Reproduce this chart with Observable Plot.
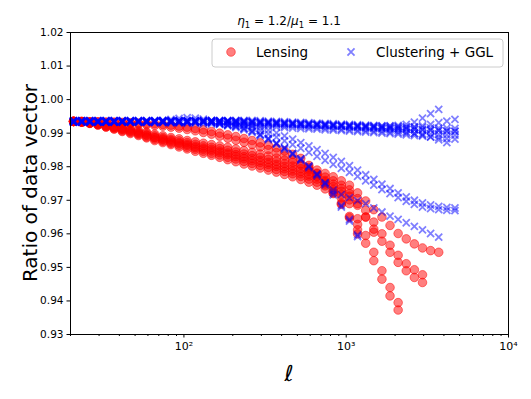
<!DOCTYPE html>
<html><head><meta charset="utf-8">
<script src="https://cdn.jsdelivr.net/npm/d3@7"></script>
<script src="https://cdn.jsdelivr.net/npm/@observablehq/plot@0.6"></script>
<style>
html,body{margin:0;padding:0;background:#fff;}
#chart{width:531px;height:399px;}
</style></head><body><div id="chart"></div>
<script>
// multipole values (shared grid)
const ell = [20.89,23.44,26.30,29.51,33.11,37.15,41.69,46.77,52.48,58.88,
 66.07,74.13,83.18,93.33,104.7,117.5,131.8,147.9,166.0,186.2,
 208.9,234.4,263.0,295.1,331.1,371.5,416.9,467.7,524.8,588.8,
 660.7,741.3,831.8,933.3,1047,1175,1318,1479,1660,1862,
 2089,2344,2630,2951,3311,3715,4169,4677];

// Lensing ratios (each curve runs over the first N ell values)
const lens1 = [0.9935,0.9935,0.9934,0.9934,0.9933,0.9933,0.9932,0.9931,0.9930,0.9929,
 0.9928,0.9926,0.9924,0.9921,0.9918,0.9914,0.9910,0.9905,0.9900,0.9895,
 0.9890,0.9884,0.9878,0.9871,0.9864,0.9856,0.9847,0.9837,0.9825,0.9804,
 0.9781,0.9756,0.9726,0.9691,0.9648,0.9600];
const lens2 = [0.9935,0.9935,0.9934,0.9933,0.9932,0.9931,0.9930,0.9929,0.9927,0.9925,
 0.9923,0.9921,0.9918,0.9915,0.9911,0.9907,0.9902,0.9897,0.9891,0.9885,
 0.9879,0.9873,0.9866,0.9859,0.9851,0.9842,0.9832,0.9821,0.9808,0.9792,
 0.9772,0.9748,0.9720,0.9688,0.9652,0.9612];
const lens3 = [0.9935,0.9934,0.9932,0.9929,0.9925,0.9921,0.9917,0.9913,0.9908,0.9903,
 0.9897,0.9892,0.9887,0.9883,0.9878,0.9874,0.9870,0.9866,0.9862,0.9858,
 0.9853,0.9848,0.9843,0.9838,0.9832,0.9826,0.9820,0.9813,0.9805,0.9798,
 0.9790,0.9780,0.9770,0.9758,0.9745,0.9722,0.9698,0.9672,0.9650,0.9625,
 0.9601,0.9585,0.9570,0.9558,0.9550,0.9545];
const lens4 = [0.9935,0.9934,0.9931,0.9928,0.9923,0.9919,0.9914,0.9910,0.9904,0.9899,
 0.9892,0.9887,0.9882,0.9877,0.9872,0.9867,0.9862,0.9858,0.9854,0.9849,
 0.9844,0.9838,0.9833,0.9828,0.9822,0.9816,0.9809,0.9802,0.9794,0.9787,
 0.9779,0.9769,0.9758,0.9745,0.9731,0.9705,0.9670,0.9635,0.9600,0.9566,
 0.9536,0.9511,0.9493,0.9478];
const lens5 = [0.9935,0.9934,0.9931,0.9927,0.9922,0.9917,0.9912,0.9907,0.9901,0.9895,
 0.9888,0.9883,0.9878,0.9872,0.9867,0.9861,0.9856,0.9852,0.9847,0.9841,
 0.9836,0.9830,0.9825,0.9819,0.9813,0.9807,0.9801,0.9794,0.9786,0.9778,
 0.9770,0.9759,0.9748,0.9735,0.9720,0.9690,0.9650,0.9605];
const lens6 = [0.9935,0.9933,0.9930,0.9926,0.9921,0.9916,0.9910,0.9905,0.9899,0.9893,
 0.9886,0.9880,0.9874,0.9869,0.9863,0.9857,0.9852,0.9847,0.9842,0.9836,
 0.9830,0.9824,0.9818,0.9813,0.9807,0.9801,0.9794,0.9787,0.9779,0.9772,
 0.9763,0.9752,0.9741,0.9727,0.9712,0.9685,0.9650,0.9614,0.9578,0.9545,
 0.9515,0.9490,0.9470,0.9455];
const lens7 = [0.9935,0.9933,0.9930,0.9925,0.9919,0.9914,0.9907,0.9902,0.9896,0.9889,
 0.9882,0.9876,0.9870,0.9864,0.9858,0.9852,0.9846,0.9840,0.9835,0.9828,
 0.9823,0.9816,0.9810,0.9804,0.9798,0.9792,0.9786,0.9779,0.9771,0.9763,
 0.9754,0.9743,0.9732,0.9717,0.9701,0.9645,0.9595,0.9545,0.9490,0.9440,
 0.9395];
const lens8 = [0.9935,0.9933,0.9929,0.9924,0.9918,0.9912,0.9905,0.9899,0.9893,0.9886,
 0.9878,0.9872,0.9866,0.9859,0.9853,0.9846,0.9840,0.9834,0.9828,0.9821,
 0.9815,0.9808,0.9802,0.9796,0.9790,0.9784,0.9777,0.9770,0.9762,0.9754,
 0.9745,0.9734,0.9722,0.9707,0.9690,0.9628,0.9572,0.9520,0.9465,0.9415,
 0.9373];

// Clustering + GGL ratios
const clus1 = [0.9938,0.9938,0.9938,0.9938,0.9938,0.9938,0.9938,0.9938,0.9938,0.9938,
 0.9938,0.9938,0.9938,0.9938,0.9938,0.9938,0.9938,0.9938,0.9938,0.9938,
 0.9938,0.9938,0.9938,0.9937,0.9936,0.9935,0.9934,0.9933,0.9932,0.9931,
 0.9930,0.9929,0.9928,0.9927,0.9926,0.9925,0.9924,0.9923,0.9922,0.9921,
 0.9920,0.9919,0.9918,0.9917,0.9916,0.9915,0.9915,0.9914];
const clus2 = [0.9936,0.9936,0.9936,0.9936,0.9936,0.9936,0.9936,0.9936,0.9936,0.9936,
 0.9936,0.9936,0.9936,0.9936,0.9936,0.9936,0.9936,0.9936,0.9936,0.9936,
 0.9936,0.9935,0.9934,0.9933,0.9932,0.9931,0.9930,0.9929,0.9928,0.9927,
 0.9926,0.9925,0.9924,0.9922,0.9921,0.9920,0.9919,0.9918,0.9916,0.9915,
 0.9914,0.9913,0.9911,0.9910,0.9909,0.9908,0.9906,0.9905];
const clus3 = [0.9934,0.9934,0.9934,0.9934,0.9934,0.9934,0.9934,0.9934,0.9934,0.9934,
 0.9934,0.9934,0.9934,0.9934,0.9934,0.9934,0.9933,0.9932,0.9931,0.9930,
 0.9929,0.9928,0.9927,0.9926,0.9925,0.9924,0.9922,0.9921,0.9920,0.9918,
 0.9917,0.9915,0.9914,0.9912,0.9911,0.9909,0.9908,0.9906,0.9905,0.9903,
 0.9902,0.9900,0.9899,0.9898,0.9897,0.9896,0.9895,0.9894];
const clus4 = [0.9932,0.9932,0.9932,0.9932,0.9932,0.9932,0.9932,0.9932,0.9932,0.9932,
 0.9931,0.9931,0.9930,0.9930,0.9929,0.9929,0.9928,0.9927,0.9926,0.9925,
 0.9924,0.9923,0.9922,0.9921,0.9920,0.9918,0.9917,0.9915,0.9914,0.9913,
 0.9912,0.9910,0.9909,0.9908,0.9906,0.9905,0.9903,0.9902,0.9900,0.9899,
 0.9897,0.9895,0.9893,0.9891,0.9889,0.9887,0.9884,0.9882];
const clus5 = [0.9936,0.9936,0.9936,0.9936,0.9936,0.9936,0.9936,0.9936,0.9936,0.9936,
 0.9936,0.9938,0.9941,0.9944,0.9946,0.9945,0.9942,0.9938,0.9935,0.9934,
 0.9933,0.9932,0.9931,0.9930,0.9929,0.9928,0.9927,0.9926,0.9925,0.9924,
 0.9923,0.9922,0.9921,0.9920,0.9919,0.9918,0.9917,0.9916,0.9915,0.9914,
 0.9913,0.9912,0.9911,0.9910,0.9909,0.9908,0.9907,0.9906];
const clus6 = [0.9935,0.9935,0.9935,0.9935,0.9935,0.9935,0.9935,0.9935,0.9935,0.9935,
 0.9935,0.9935,0.9935,0.9935,0.9935,0.9935,0.9935,0.9935,0.9935,0.9935,
 0.9935,0.9934,0.9933,0.9932,0.9931,0.9930,0.9929,0.9928,0.9927,0.9926,
 0.9925,0.9924,0.9923,0.9923,0.9922,0.9922,0.9921,0.9921,0.9921,0.9922,
 0.9923,0.9926,0.9933,0.9945,0.9958,0.9971];
const clus7 = [0.9937,0.9937,0.9937,0.9937,0.9937,0.9937,0.9937,0.9937,0.9937,0.9937,
 0.9937,0.9937,0.9937,0.9937,0.9937,0.9937,0.9937,0.9937,0.9937,0.9937,
 0.9937,0.9936,0.9935,0.9934,0.9933,0.9932,0.9931,0.9930,0.9929,0.9928,
 0.9927,0.9926,0.9925,0.9924,0.9923,0.9922,0.9921,0.9920,0.9919,0.9918,
 0.9918,0.9918,0.9919,0.9922,0.9926,0.9931,0.9936,0.9941];
const clus8 = [0.9933,0.9933,0.9933,0.9933,0.9933,0.9933,0.9933,0.9933,0.9933,0.9933,
 0.9933,0.9933,0.9933,0.9933,0.9933,0.9933,0.9933,0.9933,0.9933,0.9933,
 0.9933,0.9932,0.9931,0.9930,0.9929,0.9928,0.9927,0.9926,0.9925,0.9924,
 0.9923,0.9922,0.9921,0.9920,0.9918,0.9917,0.9915,0.9914,0.9912,0.9910,
 0.9908,0.9904,0.9899,0.9894,0.9888,0.9880,0.9872];
const clus9 = [0.9934,0.9934,0.9934,0.9934,0.9934,0.9934,0.9934,0.9934,0.9934,0.9934,
 0.9934,0.9934,0.9934,0.9934,0.9934,0.9934,0.9934,0.9932,0.9929,0.9925,
 0.9920,0.9914,0.9906,0.9896,0.9884,0.9870,0.9856,0.9840,0.9823,0.9802,
 0.9778,0.9752,0.9722,0.9685,0.9643,0.9597];
const clus10 = [0.9933,0.9933,0.9933,0.9933,0.9933,0.9933,0.9933,0.9933,0.9933,0.9933,
 0.9933,0.9933,0.9933,0.9933,0.9933,0.9933,0.9933,0.9931,0.9927,0.9922,
 0.9917,0.9910,0.9902,0.9892,0.9880,0.9867,0.9852,0.9836,0.9818,0.9797,
 0.9773,0.9746,0.9716,0.9680,0.9638,0.9592];
const clus11 = [0.9935,0.9935,0.9935,0.9935,0.9935,0.9935,0.9935,0.9935,0.9935,0.9935,
 0.9935,0.9935,0.9935,0.9935,0.9935,0.9935,0.9935,0.9935,0.9935,0.9935,
 0.9927,0.9922,0.9915,0.9907,0.9898,0.9888,0.9877,0.9866,0.9855,0.9843,
 0.9831,0.9819,0.9807,0.9795,0.9783,0.9771,0.9758,0.9745,0.9732,0.9720,
 0.9708,0.9697,0.9688,0.9680,0.9675,0.9672,0.9670,0.9669];
const clus12 = [0.9936,0.9936,0.9936,0.9936,0.9936,0.9936,0.9936,0.9936,0.9936,0.9936,
 0.9936,0.9936,0.9936,0.9936,0.9936,0.9936,0.9936,0.9936,0.9936,0.9936,
 0.9930,0.9927,0.9922,0.9916,0.9909,0.9901,0.9892,0.9882,0.9872,0.9862,
 0.9851,0.9840,0.9828,0.9816,0.9803,0.9790,0.9776,0.9762,0.9748,0.9735,
 0.9722,0.9710,0.9700,0.9692,0.9686,0.9682,0.9679,0.9677];
const clus13 = [0.9934,0.9934,0.9934,0.9934,0.9934,0.9934,0.9934,0.9934,0.9934,0.9934,
 0.9934,0.9934,0.9934,0.9934,0.9934,0.9934,0.9934,0.9932,0.9929,0.9925,
 0.9920,0.9914,0.9906,0.9896,0.9884,0.9870,0.9856,0.9840,0.9823,0.9802,
 0.9778,0.9752,0.9730,0.9717,0.9708,0.9699,0.9690,0.9677,0.9665,0.9653,
 0.9643,0.9633,0.9622,0.9612,0.9601,0.9590];

// axes / text
const yTicks = [0.93,0.94,0.95,0.96,0.97,0.98,0.99,1.00,1.01,1.02];
const xTicks = [100,1000,10000];
const xTickLabels = ["10²","10³","10⁴"];
const xMinorTicks = [20,30,40,50,60,70,80,90,200,300,400,500,600,700,800,900,2000,3000,4000,5000,6000,7000,8000,9000];
const seriesNames = ["Lensing","Clustering + GGL"];
const yLabel = "Ratio of data vector";
const xLabel = "ℓ";

function toRows(list, probe) {
  const rows = [];
  list.forEach((arr, k) => arr.forEach((v, i) => rows.push({ell: ell[i], ratio: v, probe, curve: k})));
  return rows;
}
const lensRows = toRows([lens1,lens2,lens3,lens4,lens5,lens6,lens7,lens8], seriesNames[0]);
const clusRows = toRows([clus1,clus2,clus3,clus4,clus5,clus6,clus7,clus8,clus9,clus10,clus11,clus12,clus13], seriesNames[1]);
const xLabelMap = new Map(xTicks.map((t, i) => [t, xTickLabels[i]]));

const W = 531, H = 399, mL = 70, mR = 23, mT = 32, mB = 65;
const xR = 3.3;
const svg = Plot.plot({
  width: W, height: H, marginLeft: mL, marginRight: mR, marginTop: mT, marginBottom: mB,
  style: {fontFamily: "DejaVu Sans", background: "#fff", color: "#000", overflow: "visible"},
  x: {type: "log", domain: [20, 10000], axis: null},
  y: {domain: [0.93, 1.02], axis: null},
  marks: [
    Plot.dot(lensRows, {x: "ell", y: "ratio", r: 4.3, fill: "#ff0000", fillOpacity: 0.5, stroke: "#ff0000", strokeOpacity: 0.5, strokeWidth: 1}),
    Plot.dot(clusRows, {x: "ell", y: "ratio", r: xR, symbol: "times", stroke: "#0000ff", strokeOpacity: 0.5, strokeWidth: 1.8}),
    Plot.frame({stroke: "#000", strokeWidth: 1}),
    Plot.axisY({ticks: yTicks, tickFormat: d => d.toFixed(2), tickSize: 3.5, tickPadding: 3.5, fontSize: 10.5, label: null}),
    Plot.axisX({ticks: xTicks, tickFormat: d => xLabelMap.get(d), tickSize: 3.5, tickPadding: 4, fontSize: 11, label: null}),
    Plot.axisX({ticks: xMinorTicks, tickFormat: () => "", tickSize: 2, label: null})
  ]
});
document.getElementById("chart").appendChild(svg);

const s = d3.select(svg);
const font = "DejaVu Sans";
// title
const t = s.append("text").attr("x", (mL + W - mR) / 2).attr("y", 25).attr("text-anchor", "middle")
  .attr("font-family", font).attr("font-size", 12).attr("fill", "#000");
t.append("tspan").attr("font-style", "italic").text("η");
t.append("tspan").attr("font-size", 8.5).attr("dy", 3).text("1");
t.append("tspan").attr("dy", -3).text(" = 1.2/");
t.append("tspan").attr("font-style", "italic").text("μ");
t.append("tspan").attr("font-size", 8.5).attr("dy", 3).text("1");
t.append("tspan").attr("dy", -3).text(" = 1.1");
// y label
s.append("text").attr("transform", `translate(37,${(mT + H - mB) / 2}) rotate(-90)`)
  .attr("text-anchor", "middle").attr("font-family", font).attr("font-size", 20).attr("fill", "#000").text(yLabel);
// x label
s.append("text").attr("x", (mL + W - mR) / 2).attr("y", 381).attr("text-anchor", "middle")
  .attr("font-family", font).attr("font-style", "italic").attr("font-size", 22).attr("fill", "#000").text(xLabel);
// legend
const lg = s.append("g").attr("text-anchor", "start");
lg.append("rect").attr("x", 212).attr("y", 39).attr("width", 291).attr("height", 28).attr("rx", 3)
  .attr("fill", "#fff").attr("fill-opacity", 0.8).attr("stroke", "#cccccc").attr("stroke-width", 1);
lg.append("circle").attr("cx", 231).attr("cy", 52).attr("r", 4.3).attr("fill", "#ff0000").attr("fill-opacity", 0.5)
  .attr("stroke", "#ff0000").attr("stroke-opacity", 0.5);
lg.append("path").attr("transform", "translate(351,52)").attr("d", d3.symbol(d3.symbolTimes, Math.PI * xR * xR)())
  .attr("fill", "none").attr("stroke", "#0000ff").attr("stroke-opacity", 0.5).attr("stroke-width", 1.8);
lg.append("text").attr("x", 256).attr("y", 57).attr("text-anchor", "start").attr("font-family", font).attr("font-size", 13.5).attr("fill", "#000").text(seriesNames[0]);
lg.append("text").attr("x", 376).attr("y", 57).attr("text-anchor", "start").attr("font-family", font).attr("font-size", 13.5).attr("fill", "#000").text(seriesNames[1]);
</script>
</body></html>
